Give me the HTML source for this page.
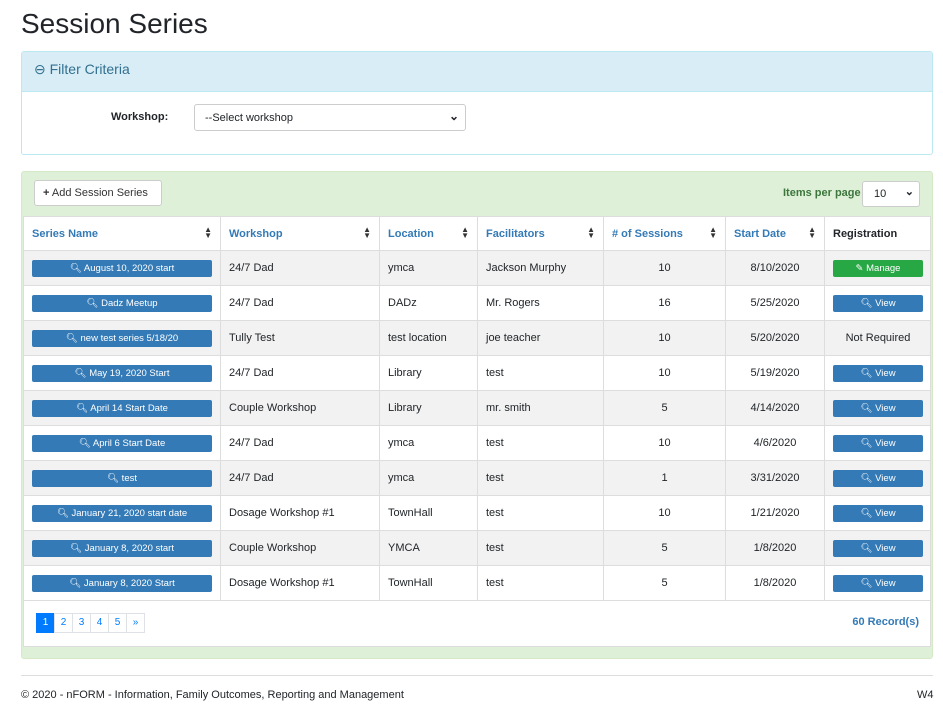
<!DOCTYPE html>
<html><head><style>
*{box-sizing:border-box}
body{margin:0;width:943px;height:717px;background:#fff;font-family:"Liberation Sans",Arial,sans-serif;color:#212529;position:relative;overflow:hidden}
.abs{position:absolute}
h1{position:absolute;left:21px;top:8px;margin:0;font-size:28px;font-weight:400;color:#212529}
.p1{left:21px;top:51px;width:912px;height:104px;border:1px solid #bce8f1;border-radius:3px}
.p1h{left:0;top:0;width:910px;height:40px;background:#d9edf7;border-bottom:1px solid #bce8f1;color:#31708f;font-size:14px;padding:9px 12px}
.sel{border:1px solid #ccc;border-radius:3px;background:#fff;font-size:11px;}
.p2{left:21px;top:171px;width:912px;height:488px;border:1px solid #d6e9c6;border-radius:3px;background:#dff0d8}
.inner{left:1px;top:44px;width:908px;height:431px;background:#fff;border:1px solid #ddd;overflow:hidden}
table{border-collapse:collapse;position:absolute;left:-1px;top:-1px;width:909px;font-size:11px;table-layout:fixed}
td,th{border:1px solid #ddd;height:35px;padding:0 8px;white-space:nowrap;overflow:hidden}
th{height:34px;text-align:left;color:#337ab7;font-weight:bold;font-size:11px;position:relative}
th .s{position:absolute;right:8px;top:10px;color:#333;font-size:8px;line-height:6px}
tbody tr:nth-child(odd){background:#f2f2f2}
.b{display:block;height:17px;border-radius:2px;background:#337ab7;color:#fff;font-size:9.5px;text-align:center;line-height:17px}
.g{background:#28a745}
.c{text-align:center}
.pg{display:inline-block;width:19px;height:20px;border:1px solid #dee2e6;color:#007bff;font-size:10px;text-align:center;line-height:18px;margin-right:-1px;background:#fff}
</style></head><body>
<h1>Session Series</h1>
<div class="abs p1"><div class="abs p1h">⊖ Filter Criteria</div>
<div class="abs" style="left:89px;top:59px;font-size:11px;font-weight:bold">Workshop:</div>
<div class="abs sel" style="left:172px;top:52px;width:272px;height:27px;padding:7px 10px">--Select workshop<span style="position:absolute;right:6px;top:4px;font-size:12px;font-weight:bold">⌄</span></div>
</div>
<div class="abs p2">
<div class="abs" style="left:12px;top:8px;width:128px;height:26px;border:1px solid #ccc;border-radius:3px;background:#fff;font-size:11px;padding:6px 8px;color:#333"><b>+</b> Add Session Series</div>
<div class="abs" style="left:761px;top:15px;font-size:11px;font-weight:bold;color:#3c763d">Items per page</div>
<div class="abs sel" style="left:840px;top:9px;width:58px;height:26px;padding:6px 11px">10<span style="position:absolute;right:5px;top:3px;font-weight:bold">⌄</span></div>
<div class="abs inner">
<table>
<colgroup><col style="width:197px"><col style="width:159px"><col style="width:98px"><col style="width:126px"><col style="width:122px"><col style="width:99px"><col></colgroup>
<thead><tr style="background:#fff"><th>Series Name<span class="s">▲<br>▼</span></th><th>Workshop<span class="s">▲<br>▼</span></th><th>Location<span class="s">▲<br>▼</span></th><th>Facilitators<span class="s">▲<br>▼</span></th><th># of Sessions<span class="s">▲<br>▼</span></th><th>Start Date<span class="s">▲<br>▼</span></th><th style="color:#212529">Registration</th></tr></thead>
<tbody>
<tr><td><span class="b">🔍︎ August 10, 2020 start</span></td><td>24/7 Dad</td><td>ymca</td><td>Jackson Murphy</td><td class="c">10</td><td class="c">8/10/2020</td><td><span class="b g">✎ Manage</span></td></tr>
<tr><td><span class="b">🔍︎ Dadz Meetup</span></td><td>24/7 Dad</td><td>DADz</td><td>Mr. Rogers</td><td class="c">16</td><td class="c">5/25/2020</td><td><span class="b">🔍︎ View</span></td></tr>
<tr><td><span class="b">🔍︎ new test series 5/18/20</span></td><td>Tully Test</td><td>test location</td><td>joe teacher</td><td class="c">10</td><td class="c">5/20/2020</td><td class="c">Not Required</td></tr>
<tr><td><span class="b">🔍︎ May 19, 2020 Start</span></td><td>24/7 Dad</td><td>Library</td><td>test</td><td class="c">10</td><td class="c">5/19/2020</td><td><span class="b">🔍︎ View</span></td></tr>
<tr><td><span class="b">🔍︎ April 14 Start Date</span></td><td>Couple Workshop</td><td>Library</td><td>mr. smith</td><td class="c">5</td><td class="c">4/14/2020</td><td><span class="b">🔍︎ View</span></td></tr>
<tr><td><span class="b">🔍︎ April 6 Start Date</span></td><td>24/7 Dad</td><td>ymca</td><td>test</td><td class="c">10</td><td class="c">4/6/2020</td><td><span class="b">🔍︎ View</span></td></tr>
<tr><td><span class="b">🔍︎ test</span></td><td>24/7 Dad</td><td>ymca</td><td>test</td><td class="c">1</td><td class="c">3/31/2020</td><td><span class="b">🔍︎ View</span></td></tr>
<tr><td><span class="b">🔍︎ January 21, 2020 start date</span></td><td>Dosage Workshop #1</td><td>TownHall</td><td>test</td><td class="c">10</td><td class="c">1/21/2020</td><td><span class="b">🔍︎ View</span></td></tr>
<tr><td><span class="b">🔍︎ January 8, 2020 start</span></td><td>Couple Workshop</td><td>YMCA</td><td>test</td><td class="c">5</td><td class="c">1/8/2020</td><td><span class="b">🔍︎ View</span></td></tr>
<tr><td><span class="b">🔍︎ January 8, 2020 Start</span></td><td>Dosage Workshop #1</td><td>TownHall</td><td>test</td><td class="c">5</td><td class="c">1/8/2020</td><td><span class="b">🔍︎ View</span></td></tr>
</tbody></table>
<div class="abs" style="left:12px;top:396px;font-size:0"><span class="pg" style="background:#007bff;color:#fff;border-color:#007bff">1</span><span class="pg">2</span><span class="pg">3</span><span class="pg">4</span><span class="pg">5</span><span class="pg">»</span></div>
<div class="abs" style="right:11px;top:399px;font-size:11px;font-weight:bold;color:#337ab7">60 Record(s)</div>
</div>
</div>
<div class="abs" style="left:21px;top:675px;width:912px;border-top:1px solid #ddd"></div>
<div class="abs" style="left:21px;top:689px;font-size:11px">© 2020 - nFORM - Information, Family Outcomes, Reporting and Management</div>
<div class="abs" style="left:917px;top:689px;font-size:11px">W4</div>
</body></html>
